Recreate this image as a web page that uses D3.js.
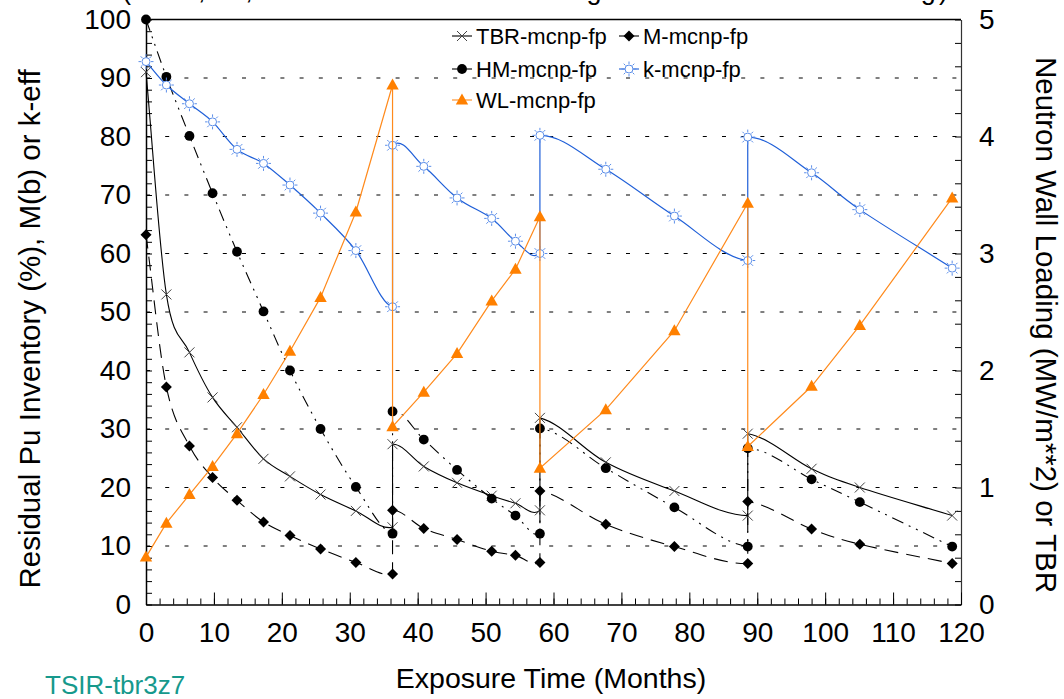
<!DOCTYPE html>
<html>
<head>
<meta charset="utf-8">
<script src="https://cdn.jsdelivr.net/npm/d3@7"></script>
<style>
  body { margin: 0; background: #fff; }
  svg { display: block; font-family: "Liberation Sans", Arial, sans-serif; }
</style>
</head>
<body>
<svg id="chart" width="1064" height="699"></svg>
<script>
// Exposure time (months); each refuelling appears twice: end of one cycle, start of the next
const months = [0, 3.0, 6.4, 9.8, 13.4, 17.3, 21.2, 25.7, 30.9, 36.3,
                36.3, 40.9, 45.8, 50.9, 54.4, 58.0,
                58.0, 67.7, 77.8, 88.6,
                88.6, 98.0, 105.1, 118.7];

// Tritium breeding ratio (right axis)
const tbr = [4.55, 2.65, 2.155, 1.77, 1.515, 1.245, 1.095, 0.94, 0.80, 0.66,
             1.37, 1.18, 1.04, 0.93, 0.865, 0.805,
             1.595, 1.215, 0.97, 0.76,
             1.46, 1.16, 1.00, 0.76];

// Blanket multiplication M (left axis)
const mult = [63.2, 37.2, 27.1, 21.7, 17.8, 14.1, 11.8, 9.5, 7.2, 5.2,
              16.1, 13.0, 11.1, 9.1, 8.4, 7.2,
              19.4, 13.7, 9.9, 7.0,
              17.6, 12.9, 10.3, 7.0];

// Residual heavy-metal (Pu) inventory, % (left axis)
const heavyMetal = [100, 90.2, 80.1, 70.3, 60.3, 50.1, 40.0, 30.0, 20.1, 12.1,
                    33.0, 28.2, 23.0, 18.1, 15.2, 12.1,
                    30.1, 23.3, 16.6, 9.9,
                    26.7, 21.4, 17.5, 9.9];

// k-eff x 100 (left axis)
const keff = [92.8, 88.8, 85.6, 82.5, 77.8, 75.4, 71.7, 66.9, 60.5, 50.9,
              78.5, 74.9, 69.5, 66.0, 62.1, 60.0,
              80.2, 74.4, 66.4, 58.8,
              79.9, 73.8, 67.5, 57.5];

// Neutron wall loading, MW/m**2 (right axis)
const wallLoad = [0.405, 0.695, 0.94, 1.18, 1.46, 1.795, 2.165, 2.625, 3.355, 4.44,
                  1.52, 1.815, 2.145, 2.595, 2.865, 3.315,
                  1.165, 1.665, 2.34, 3.43,
                  1.35, 1.865, 2.385, 3.475];

const leftTicks = d3.range(0, 101, 10);
const rightTicks = d3.range(0, 6, 1);
const xTicks = d3.range(0, 121, 10);

const svg = d3.select("#chart");
const FONT = 28;

const x = d3.scaleLinear().domain([0, 120]).range([146, 961]);
const yL = d3.scaleLinear().domain([0, 100]).range([604.5, 19.5]);
const yR = d3.scaleLinear().domain([0, 5]).range([604.5, 19.5]);

// Title (runs above the top edge of the canvas)
svg.append("text")
  .attr("x", 122).attr("y", -1)
  .attr("textLength", 826).attr("lengthAdjust", "spacing")
  .attr("font-size", 27)
  .text("(TBR, M, HM and k-eff at Rising Neutron Wall Loading)");

// Dotted horizontal grid
svg.append("g").selectAll("line")
  .data(d3.range(10, 100, 10))
  .join("line")
  .attr("x1", x(0)).attr("x2", x(120))
  .attr("y1", d => yL(d)).attr("y2", d => yL(d))
  .attr("stroke", "#000").attr("stroke-width", 1)
  .attr("stroke-dasharray", "4,15.2");

// Frame top edge
svg.append("line")
  .attr("x1", x(0)).attr("x2", x(120))
  .attr("y1", yL(100)).attr("y2", yL(100))
  .attr("stroke", "#000").attr("stroke-width", 1.5);

function styleAxis(g) {
  g.selectAll(".tick line").attr("stroke", "#000").attr("stroke-width", 1);
  g.selectAll(".tick text").attr("font-size", FONT).attr("fill", "#000")
    .attr("font-family", "'Liberation Sans', Arial, sans-serif");
}

// Left axis: minor ticks every 2, labels every 10
const gLeft = svg.append("g").attr("transform", `translate(${x(0)},0)`)
  .call(d3.axisLeft(yL).tickValues(d3.range(0, 101, 2)).tickSize(-6).tickSizeOuter(0)
    .tickPadding(15).tickFormat(d => leftTicks.includes(d) ? d : ""));
gLeft.select(".domain").attr("stroke", "#000").attr("stroke-width", 1.5);
styleAxis(gLeft);

// Right axis: ticks every 0.2, labels on whole numbers
const gRight = svg.append("g").attr("transform", `translate(${x(120)},0)`)
  .call(d3.axisRight(yR).tickValues(d3.range(0, 25.5, 1).map(v => v / 5)).tickSize(-6).tickSizeOuter(0)
    .tickPadding(18).tickFormat(d => rightTicks.includes(d) ? d : ""));
gRight.select(".domain").attr("stroke", "#333").attr("stroke-width", 1.2);
styleAxis(gRight);

// Bottom axis: minor ticks every 2 months, major ticks with labels every 10
const gBottomMinor = svg.append("g").attr("transform", `translate(0,${yL(0)})`)
  .call(d3.axisBottom(x).tickValues(d3.range(0, 121, 2)).tickSize(-6).tickSizeOuter(0).tickFormat(""));
gBottomMinor.select(".domain").attr("stroke", "#000").attr("stroke-width", 1.5);
styleAxis(gBottomMinor);
const gBottom = svg.append("g").attr("transform", `translate(0,${yL(0)})`)
  .call(d3.axisBottom(x).tickValues(xTicks).tickSize(-12).tickSizeOuter(0).tickPadding(18));
gBottom.select(".domain").remove();
styleAxis(gBottom);

// Axis titles
svg.append("text")
  .attr("x", 551).attr("y", 688).attr("text-anchor", "middle")
  .attr("font-size", 28.5).text("Exposure Time (Months)");
svg.append("text")
  .attr("transform", "translate(40,329) rotate(-90)").attr("text-anchor", "middle")
  .attr("font-size", 29.5).text("Residual Pu Inventory (%), M(b) or k-eff");
svg.append("text")
  .attr("transform", "translate(1036,325) rotate(90)").attr("text-anchor", "middle")
  .attr("font-size", 29.5).text("Neutron Wall Loading (MW/m**2) or TBR");
svg.append("text")
  .attr("x", 45).attr("y", 694).attr("font-size", 26).attr("fill", "#16998c")
  .text("TSIR-tbr3z7");

// Smoothed path: Bezier segments with Catmull-Rom style tangents. Refuelling
// jumps (two points at the same time) are drawn as straight vertical strokes,
// and the tangents next to a jump follow the neighbouring chord, tilted
// slightly towards the jump.
function smoothPath(P) {
  const p = d3.path();
  const n = P.length;
  const vert = i => i >= 0 && i < n - 1 && Math.abs(P[i][0] - P[i + 1][0]) < 0.01;
  const c = 0.1;
  const D = P.map((pt, i) => {
    if (vert(i - 1) && i < n - 1) {
      const nx = P[i + 1];
      return [(nx[0] - pt[0]) / 3 + c * (pt[0] - P[i - 1][0]),
              (nx[1] - pt[1]) / 3 + c * (pt[1] - P[i - 1][1])];
    }
    if (vert(i) && i > 0) {
      const pv = P[i - 1];
      return [(pt[0] - pv[0]) / 3 + c * (P[i + 1][0] - pt[0]),
              (pt[1] - pv[1]) / 3 + c * (P[i + 1][1] - pt[1])];
    }
    const a = P[Math.max(i - 1, 0)], b = P[Math.min(i + 1, n - 1)];
    const k = (i === 0 || i === n - 1) ? 1 / 3 : 1 / 6;
    return [(b[0] - a[0]) * k, (b[1] - a[1]) * k];
  });
  p.moveTo(P[0][0], P[0][1]);
  for (let i = 0; i < n - 1; i++) {
    const a = P[i], b = P[i + 1];
    if (vert(i)) {
      p.lineTo(b[0], b[1]);
    } else {
      p.bezierCurveTo(a[0] + D[i][0], a[1] + D[i][1],
                      b[0] - D[i + 1][0], b[1] - D[i + 1][1], b[0], b[1]);
    }
  }
  return p.toString();
}

// Marker shapes
const markerDraw = {
  cross: (g, col) => g.append("path").attr("d", "M-5,-5L5,5M-5,5L5,-5")
    .attr("stroke", col).attr("stroke-width", 1).attr("fill", "none"),
  diamond: (g, col) => g.append("path").attr("d", "M0,-5.5L5.5,0L0,5.5L-5.5,0Z").attr("fill", col),
  circle: (g, col) => g.append("circle").attr("r", 4.9).attr("fill", col),
  sun: (g, col) => {
    g.append("circle").attr("r", 4).attr("fill", "#fff").attr("stroke", col).attr("stroke-width", 1);
    const rays = d3.range(8).map(i => {
      const a = i * Math.PI / 4;
      return `M${(5 * Math.cos(a)).toFixed(2)},${(5 * Math.sin(a)).toFixed(2)}L${(7.5 * Math.cos(a)).toFixed(2)},${(7.5 * Math.sin(a)).toFixed(2)}`;
    }).join("");
    g.append("path").attr("d", rays).attr("stroke", col).attr("stroke-width", 1);
  },
  triangle: (g, col) => g.append("path").attr("d", "M0,-6.5L6.2,4.5L-6.2,4.5Z").attr("fill", col)
};

const series = [
  { name: "TBR-mcnp-fp", values: tbr, y: yR, line: "#000", dash: null, width: 1.1, marker: "cross", mcol: "#444", smooth: true },
  { name: "M-mcnp-fp", values: mult, y: yL, line: "#000", dash: "14,8", width: 1.1, marker: "diamond", mcol: "#000", smooth: true },
  { name: "HM-mcnp-fp", values: heavyMetal, y: yL, line: "#000", dash: "12,6,2,6,2,6", width: 1.1, marker: "circle", mcol: "#000", smooth: true },
  { name: "k-mcnp-fp", values: keff, y: yL, line: "#1f5fd8", dash: null, width: 1.2, marker: "sun", mcol: "#5b8ee9", smooth: true },
  { name: "WL-mcnp-fp", values: wallLoad, y: yR, line: "#ff8a1c", dash: null, width: 1.2, marker: "triangle", mcol: "#ff8000", smooth: false }
];

const plot = svg.append("g");
series.forEach(s => {
  const pts = months.map((m, i) => [x(m), s.y(s.values[i])]);
  const d = s.smooth ? smoothPath(pts) : d3.line()(pts);
  plot.append("path")
    .attr("d", d).attr("fill", "none")
    .attr("stroke", s.line).attr("stroke-width", s.width)
    .attr("stroke-dasharray", s.dash);
  pts.forEach(pt => {
    const g = plot.append("g").attr("transform", `translate(${pt[0]},${pt[1]})`);
    markerDraw[s.marker](g, s.mcol);
  });
});

// Legend
const legendItems = [
  { s: series[0], lx: 462, ly: 36 },
  { s: series[1], lx: 629, ly: 36 },
  { s: series[2], lx: 462, ly: 69 },
  { s: series[3], lx: 629, ly: 69 },
  { s: series[4], lx: 462, ly: 100 }
];
legendItems.forEach(({ s, lx, ly }) => {
  const g = svg.append("g").attr("transform", `translate(${lx},${ly})`);
  g.append("line").attr("x1", -10).attr("x2", 10).attr("stroke", s.line).attr("stroke-width", 1.1);
  markerDraw[s.marker](g, s.mcol);
  g.append("text").attr("x", 14).attr("y", 8).attr("font-size", 22).text(s.name);
});
</script>
</body>
</html>
